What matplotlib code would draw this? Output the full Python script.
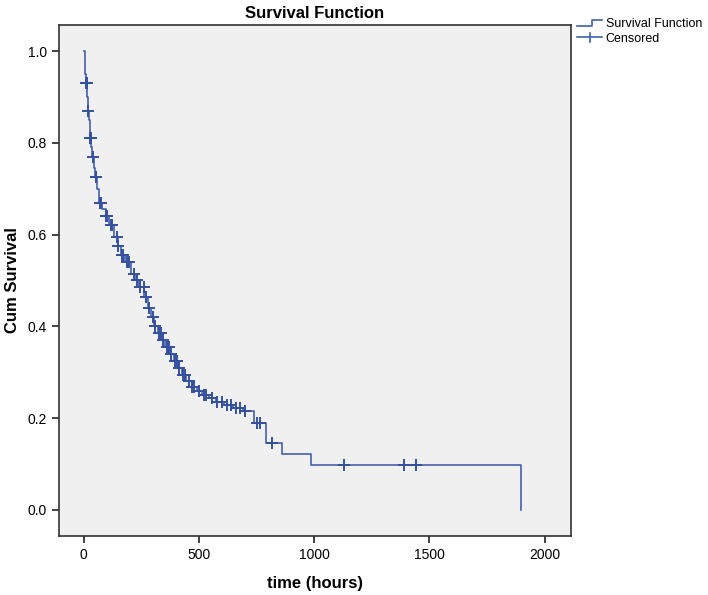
import numpy as np
import matplotlib
matplotlib.use('Agg')
import matplotlib.pyplot as plt
from matplotlib.lines import Line2D
from matplotlib.legend_handler import HandlerBase

plt.rcParams['font.family'] = ['Liberation Sans', 'DejaVu Sans']

# 生存函数的阶梯数据（时间，事件后的累计生存率）
event_t = [0, 4, 8, 12, 16, 20, 24, 28, 33, 38, 44, 50, 58, 66, 80, 95, 112, 130,
           150, 160, 180, 205, 225, 240, 262, 280, 292, 305, 322, 340, 355, 372,
           390, 408, 425, 445, 468, 490, 512, 545, 575, 610, 650, 690, 740, 790,
           860, 985, 1897]
surv = [1.0, 0.97, 0.95, 0.93, 0.90, 0.87, 0.85, 0.81, 0.79, 0.77, 0.745, 0.725,
        0.70, 0.67, 0.655, 0.64, 0.62, 0.595, 0.575, 0.555, 0.54, 0.515, 0.50,
        0.485, 0.465, 0.44, 0.42, 0.40, 0.385, 0.37, 0.355, 0.34, 0.325, 0.31,
        0.295, 0.28, 0.268, 0.258, 0.25, 0.243, 0.235, 0.228, 0.222, 0.215, 0.19,
        0.146, 0.122, 0.097, 0.0]

# 删失时间
cens_t = [12, 14, 21, 29, 31, 40, 52, 54, 70, 75, 97, 100, 120, 125, 145, 150,
          165, 170, 190, 195, 220, 230, 245, 260, 270, 285, 300, 310, 325, 335,
          345, 360, 370, 380, 395, 405, 415, 430, 440, 455, 470, 480, 500, 520,
          530, 555, 580, 600, 620, 640, 660, 680, 700, 750, 765, 815, 1130, 1390,
          1442]

x_ticks = [0, 500, 1000, 1500, 2000]
y_ticks = [0.0, 0.2, 0.4, 0.6, 0.8, 1.0]

line_color = '#4460ad'
mark_color = '#34509f'

event_arr = np.array(event_t)
surv_arr = np.array(surv)
idx = np.searchsorted(event_arr, cens_t, side='right') - 1
cens_s = surv_arr[idx]

fig = plt.figure(figsize=(7.08, 5.95), dpi=100)
ax = fig.add_axes([0.0833, 0.0992, 0.7232, 0.8588])
ax.set_facecolor('#f0f0f0')

ax.step(event_t, surv, where='post', color=line_color, lw=1.2)
ax.plot(cens_t, cens_s, linestyle='none', marker='+', markersize=8,
        markeredgewidth=1.4, color=mark_color)

ax.set_xlim(-107, 2114)
ax.set_ylim(-0.057, 1.057)
ax.set_xticks(x_ticks)
ax.set_yticks(y_ticks)
ax.set_yticklabels([f'{v:.1f}' for v in y_ticks])
ax.tick_params(direction='out', length=5, width=1.3, color='#333333',
               labelsize=10, top=False, right=False)
for sp in ax.spines.values():
    sp.set_color('#333333')
    sp.set_linewidth(1.2)

ax.set_title('Survival Function', fontsize=12, fontweight='bold', pad=5)
ax.set_xlabel('time (hours)', fontsize=12, fontweight='bold', labelpad=10)
ax.set_ylabel('Cum Survival', fontsize=12, fontweight='bold')
ax.yaxis.set_label_coords(-0.076, 0.5)


class StepHandler(HandlerBase):
    def create_artists(self, legend, orig_handle, xdescent, ydescent,
                       width, height, fontsize, trans):
        x0 = -xdescent
        y0 = -ydescent
        xs = [x0, x0 + width * 0.6, x0 + width * 0.6, x0 + width]
        ys = [y0 + height * 0.15, y0 + height * 0.15, y0 + height * 0.85, y0 + height * 0.85]
        ln = Line2D(xs, ys, color=line_color, lw=1.2, transform=trans)
        return [ln]


class CensHandler(HandlerBase):
    def create_artists(self, legend, orig_handle, xdescent, ydescent,
                       width, height, fontsize, trans):
        x0 = -xdescent
        y0 = -ydescent
        ln = Line2D([x0, x0 + width], [y0 + height / 2, y0 + height / 2],
                    color=line_color, lw=1.2, transform=trans)
        tk = Line2D([x0 + width / 2, x0 + width / 2], [y0, y0 + height],
                    color=line_color, lw=1.2, transform=trans)
        return [ln, tk]


h1 = Line2D([], [], color=line_color)
h2 = Line2D([], [], color=line_color)
fig.legend([h1, h2], ['Survival Function', 'Censored'],
           handler_map={h1: StepHandler(), h2: CensHandler()},
           loc='upper left', bbox_to_anchor=(0.808, 0.978), frameon=False,
           fontsize=9, handlelength=2.0, handletextpad=0.3, labelspacing=0.2,
           borderaxespad=0)

fig.savefig('out.png', dpi=100)
